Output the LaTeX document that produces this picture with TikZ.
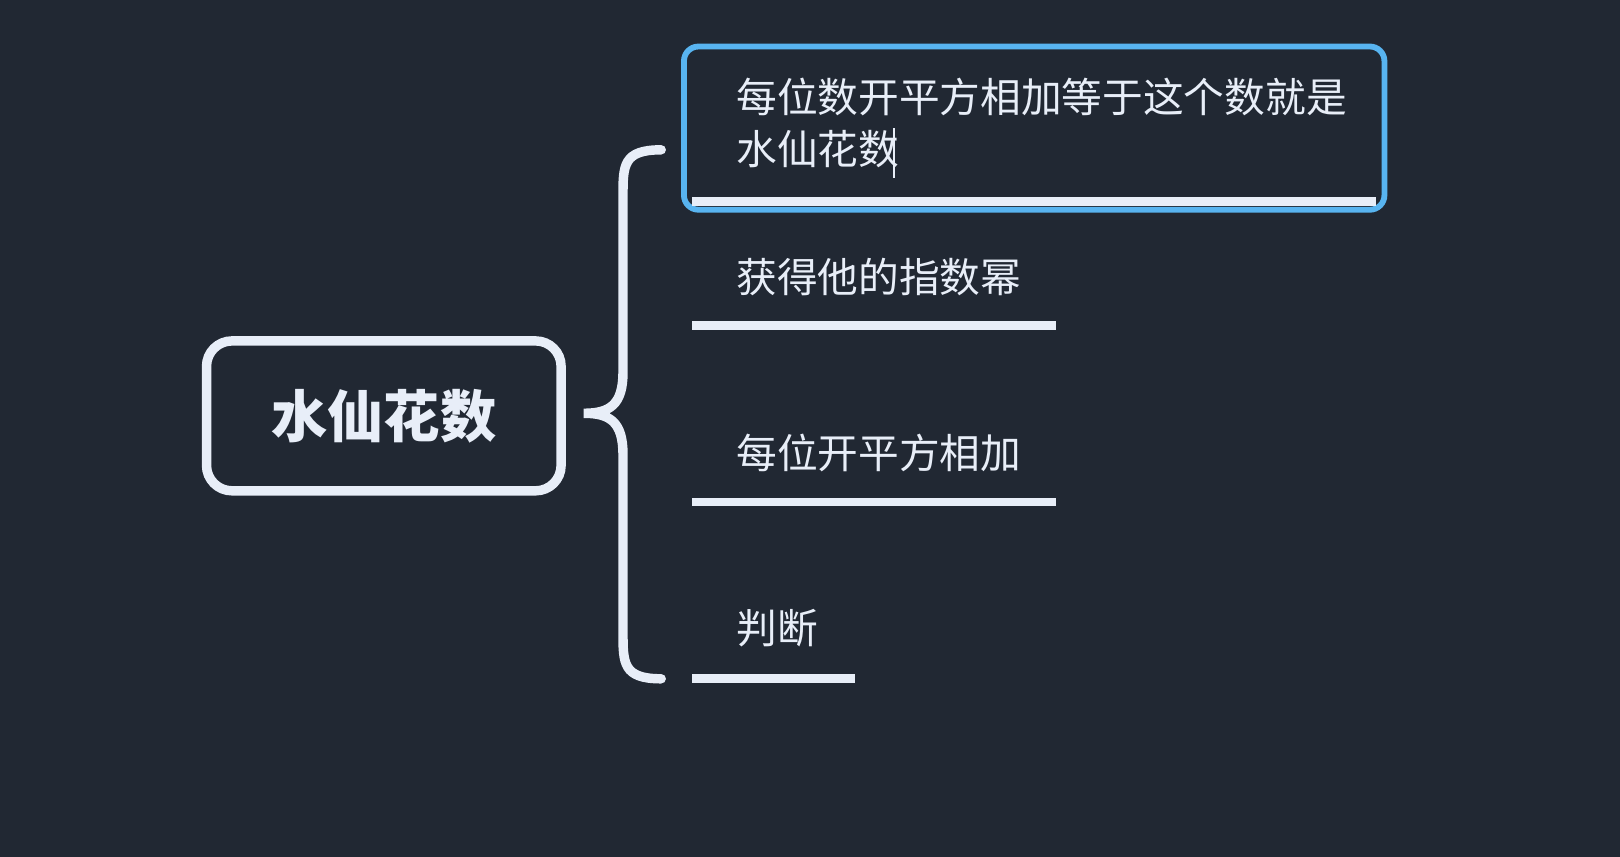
\documentclass[tikz,border=0pt]{standalone}
\usepackage{fontspec}
\setmainfont{Noto Sans CJK SC}
\definecolor{bgdark}{HTML}{212833}
\definecolor{linewhite}{HTML}{E8EEF8}
\definecolor{selblue}{HTML}{58B4F0}
\usetikzlibrary{positioning}

\begin{document}
\begin{tikzpicture}[x=0.01cm, y=-0.01cm,
  topic/.style={draw=linewhite, line width=2.6pt, rounded corners=7pt, text=linewhite,
    font=\fontsize{15.5pt}{18pt}\selectfont\bfseries, minimum width=3.43cm, minimum height=1.45cm},
  sub/.style={anchor=west, text=linewhite, font=\fontsize{11.2pt}{14.2pt}\selectfont, inner sep=0pt},
  uline/.style={draw=linewhite, line width=2.4pt}]
  % background
  \fill[bgdark] (0,0) rectangle (1568,829);

  % central topic
  \node[topic] (root) at (371.5,402.5) {水仙花数};

  % brace
  \coordinate (btop) at (640,145);
  \coordinate (bbot) at (640,657);
  \coordinate (btip) at (565,400);
  \draw[linewhite, line width=2.6pt, line cap=round]
    (btop) .. controls (603,145) and (603,160) .. (603,190) -- (603,360)
    .. controls (603,392) and (590,400) .. (btip)
    .. controls (590,400) and (603,408) .. (603,440) -- (603,612)
    .. controls (603,642) and (603,657) .. (bbot);

  % selected subtopic
  \draw[selblue, line width=1.6pt, rounded corners=4pt] (662,45) rectangle (1340,203);
  \node[sub, align=left, anchor=north west] (s1) at (712,75)
    {每位数开平方相加等于这个数就是\\水仙花数};
  \draw[linewhite, line width=0.6pt] (865,124) -- (865,172);
  \draw[uline] (670,195) -- (1332,195);

  % other subtopics
  \node[sub] (s2) at (712,268) {获得他的指数幂};
  \draw[uline] (670,315) -- (1022,315);

  \node[sub] (s3) at (712,438) {每位开平方相加};
  \draw[uline] (670,486) -- (1022,486);

  \node[sub] (s4) at (712,608) {判断};
  \draw[uline] (670,657) -- (828,657);
\end{tikzpicture}
\end{document}
